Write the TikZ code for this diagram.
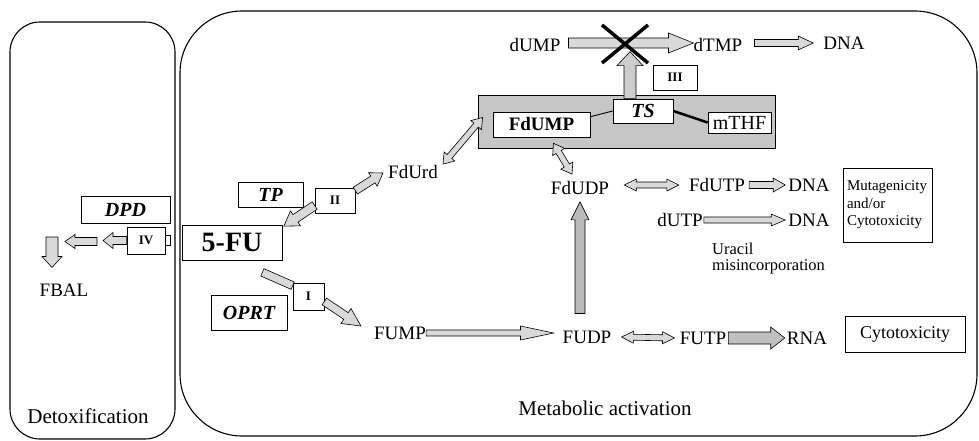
\documentclass[tikz,border=0pt]{standalone}
\usepackage{fontspec}
\setmainfont{Liberation Serif}
\usetikzlibrary{calc}
% single fat arrow: [style]{from}{to}{shaft half width}{head half width}{head length}
\newcommand\fatarr[6][]{%
  \draw[arrowbody,#1] let \p1=(#2), \p2=(#3), \p3=($(\p2)!#6!(\p1)$) in
    ($(\p1)!#4!90:(\p2)$) -- ($(\p3)!#4!-90:(\p1)$) -- ($(\p3)!#5!-90:(\p1)$) -- (\p2)
    -- ($(\p3)!#5!90:(\p1)$) -- ($(\p3)!#4!90:(\p1)$) -- ($(\p1)!#4!-90:(\p2)$) -- cycle;}
% double fat arrow
\newcommand\dblarr[6][]{%
  \draw[arrowbody,#1] let \p1=(#2), \p2=(#3), \p3=($(\p1)!#6!(\p2)$), \p4=($(\p2)!#6!(\p1)$) in
    (\p1) -- ($(\p3)!#5!90:(\p2)$) -- ($(\p3)!#4!90:(\p2)$) -- ($(\p4)!#4!-90:(\p1)$)
    -- ($(\p4)!#5!-90:(\p1)$) -- (\p2) -- ($(\p4)!#5!90:(\p1)$) -- ($(\p4)!#4!90:(\p1)$)
    -- ($(\p3)!#4!-90:(\p2)$) -- ($(\p3)!#5!-90:(\p2)$) -- cycle;}
% fat bar without head
\newcommand\fatbar[4][]{%
  \draw[arrowbody,#1] let \p1=(#2), \p2=(#3) in
    ($(\p1)!#4!90:(\p2)$) -- ($(\p2)!#4!-90:(\p1)$) -- ($(\p2)!#4!90:(\p1)$) -- ($(\p1)!#4!-90:(\p2)$) -- cycle;}
\begin{document}
\begin{tikzpicture}[x=1pt,y=-1pt,
  box/.style={draw, line width=0.7pt, fill=white, inner sep=0pt},
  lab/.style={inner sep=0pt, font=\fontsize{19pt}{21pt}\selectfont},
  enz/.style={box, font=\bfseries\itshape\fontsize{20pt}{22pt}\selectfont},
  roman/.style={box, font=\bfseries\fontsize{13pt}{14pt}\selectfont},
  arrowbody/.style={draw=black, line width=0.6pt, fill=gray!30, line join=miter},
  panel/.style={draw, line width=1.1pt}]
\useasboundingbox (0,0) rectangle (979,441);
\fill[white] (0,0) rectangle (979,441);
% panels
\draw[panel, rounded corners=30pt] (10,22) rectangle (175,439);
\draw[panel, rounded corners=62pt] (180,11) rectangle (977,436);
\node[inner sep=0pt, font=\fontsize{21pt}{23pt}\selectfont] (detox) at (88,416) {Detoxification};
\node[inner sep=0pt, font=\fontsize{21pt}{23pt}\selectfont] (metab) at (605,408) {Metabolic activation};
% detoxification side
\node[enz, minimum width=89pt, minimum height=27pt] (dpd) at (125.5,209.5) {DPD};
\node[roman, minimum width=38pt, minimum height=27pt] (iv) at (146,240.5) {IV};
\node[box, minimum width=5pt, minimum height=10pt] (tab) at (167.5,240) {};
\node[lab] (fbal) at (64,290) {FBAL};
\coordinate (d1) at (103,240.5);
\coordinate (d2s) at (97,241.5);
\coordinate (d2e) at (65,241.5);
\coordinate (d3s) at (52,237);
\fatarr{iv.west}{d1}{4pt}{8pt}{10pt}
\fatarr{d2s}{d2e}{4pt}{7pt}{10pt}
\fatarr{d3s}{$(fbal.north)+(-12,-16)$}{6pt}{10pt}{11pt}
% 5-FU and enzymes
\node[box, minimum width=100pt, minimum height=35pt, font=\bfseries\fontsize{28pt}{30pt}\selectfont] (fu) at (232,242.5) {5-FU};
\node[enz, minimum width=65pt, minimum height=25pt] (tp) at (270.5,194.5) {TP};
\node[roman, minimum width=40pt, minimum height=25pt] (ii) at (335,200.5) {II};
\node[roman, minimum width=31pt, minimum height=27pt] (i) at (308.5,296.5) {I};
\node[enz, minimum width=76pt, minimum height=35pt] (oprt) at (249,312.5) {OPRT};
\node[lab] (fdurd) at (413,172) {FdUrd};
\fatarr{$(ii.west)+(0,5)$}{$(fu.north east)+(1.5,1.5)$}{4.5pt}{9pt}{14pt}
\fatarr{$(ii.north east)+(0,3)$}{$(fdurd.west)+(-5,1)$}{4pt}{8pt}{12pt}
% TS complex
\node[draw, line width=0.8pt, fill=gray!45, minimum width=297pt, minimum height=53pt, inner sep=0pt] (cplx) at (626.5,121.5) {};
\node[box, minimum width=97pt, minimum height=25pt, font=\bfseries\fontsize{19pt}{21pt}\selectfont] (fdump) at (541.5,124.5) {FdUMP};
\node[enz, minimum width=60pt, minimum height=24pt] (ts) at (643,111) {TS};
\node[box, minimum width=63pt, minimum height=21pt, font=\fontsize{20pt}{22pt}\selectfont] (mthf) at (739.5,122.5) {mTHF};
\draw[line width=0.9pt] (fdump.9) -- (ts.west);
\draw[line width=2.5pt] (ts.east) -- (mthf.west);
\node[roman, minimum width=44pt, minimum height=25pt] (iii) at (675,77.5) {III};
% top row
\node[lab] (dump) at (535,45) {dUMP};
\node[lab] (dtmp) at (718,45) {dTMP};
\node[lab] (dnaA) at (844,43) {DNA};
\fatarr{$(dump.east)+(8,-2)$}{$(dtmp.west)+(0,-2)$}{5pt}{10pt}{25pt}
\fatarr{$(dtmp.east)+(12,-2)$}{$(dnaA.west)+(-10,0)$}{3.5pt}{7pt}{15pt}
\fatarr[fill=gray!40]{$(ts.north)+(-13,0)$}{$(ts.north)+(-13,-47)$}{6pt}{13pt}{14pt}
\draw[line width=3.5pt] (602,25) -- (648,63) (648,25) -- (602,63);
% middle
\node[lab] (fdudp) at (580,188) {FdUDP};
\node[lab] (fdutp) at (717,185) {FdUTP};
\node[lab] (dnaB) at (809,185) {DNA};
\node[lab] (dutp) at (680,220) {dUTP};
\node[lab] (dnaC) at (809,220) {DNA};
\node[inner sep=0pt, align=left, anchor=north west, font=\fontsize{16.5pt}{16pt}\selectfont] (ura) at (712,243) {Uracil\\misincorporation};
\dblarr{$(fdurd.north east)+(5,-1)$}{$(cplx.west)+(5,-4)$}{3pt}{7pt}{10pt}
\dblarr{$(fdump.south)+(12,6)$}{$(fdudp.north)+(-8,-7)$}{3pt}{7pt}{10pt}
\dblarr{$(fdudp.east)+(15,-3)$}{$(fdutp.west)+(-10,0)$}{3pt}{6pt}{12pt}
\fatarr{$(fdutp.east)+(4,0)$}{$(dnaB.west)+(-3,0)$}{3.5pt}{7pt}{12pt}
\fatarr{$(dutp.east)+(1,0)$}{$(dnaC.west)+(-3,0)$}{3pt}{6pt}{14pt}
\node[box, text width=81pt, inner xsep=4pt, inner ysep=0pt, minimum height=74pt, align=left, font=\fontsize{15pt}{17.5pt}\selectfont] (mut) at (887.5,205) {Mutagenicity\\and/or\\Cytotoxicity};
% bottom row
\node[lab] (fump) at (400,333) {FUMP};
\node[lab] (fudp) at (587,337) {FUDP};
\node[lab] (futp) at (703,338) {FUTP};
\node[lab] (rna) at (807,338) {RNA};
\node[box, minimum width=120pt, minimum height=36pt, font=\fontsize{18pt}{20pt}\selectfont] (cyto) at (905,334) {Cytotoxicity};
\fatbar{$(fu.south east)+(-20,12)$}{$(i.north west)+(0,3)$}{4pt}
\fatarr{$(i.east)+(0,5)$}{$(fump.west)+(-13,-7)$}{4pt}{9pt}{18pt}
\fatarr{fump.east}{$(fudp.west)+(-9,-4)$}{3pt}{7pt}{33pt}
\fatarr[fill=gray!55]{$(fudp.north)+(-7,-17)$}{$(fdudp.south)+(0,7)$}{5pt}{9pt}{18pt}
\dblarr{$(fudp.east)+(10,0)$}{$(futp.west)+(-5,0)$}{3pt}{6pt}{12pt}
\fatarr[fill=gray!50]{$(futp.east)+(2,0)$}{$(rna.west)+(-2,0)$}{6pt}{11pt}{14pt}
\end{tikzpicture}
\end{document}
